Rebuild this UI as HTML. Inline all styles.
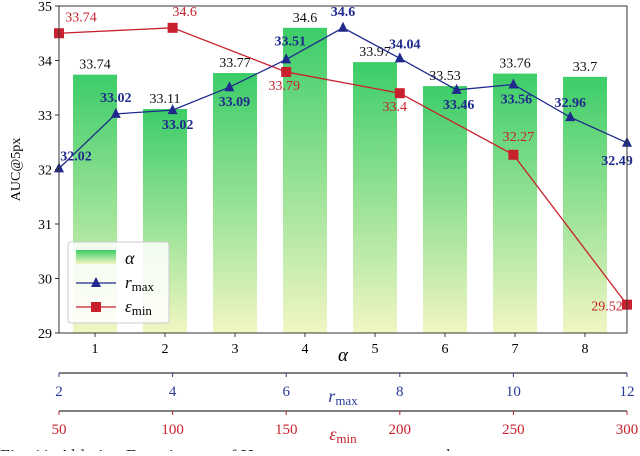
<!DOCTYPE html>
<html><head><meta charset="utf-8"><style>
body{margin:0;background:#fff;width:640px;height:451px;overflow:hidden}
text{font-family:"Liberation Serif",serif}
</style></head><body>
<svg width="640" height="451">
<defs><linearGradient id="g" x1="0" y1="0" x2="0" y2="1">
<stop offset="0" stop-color="#3ccd68"/><stop offset="1" stop-color="#f1f6c2"/></linearGradient></defs>
<g id="bars"></g><g id="lines"></g><g id="axes"></g>
</svg>
<script>
const alphaCats=[1,2,3,4,5,6,7,8];
const alphaVals=[33.74,33.11,33.77,34.6,33.97,33.53,33.76,33.7];
const rCats=[2,3,4,5,6,7,8,9,10,11,12];
const rVals=[32.02,33.02,33.09,33.51,34.02,34.6,34.04,33.46,33.56,32.96,32.49];
const rLabels=["32.02","33.02","33.02","33.09","33.51","34.6","34.04","33.46","33.56","32.96","32.49"];
const eCats=[50,100,150,200,250,300];
const eVals=[34.5,34.6,33.79,33.4,32.27,29.52];
const eLabels=["33.74","34.6","33.79","33.4","32.27","29.52"];
const yTicks=[29,30,31,32,33,34,35];
const rTicks=[2,4,6,8,10,12];
const eTicks=[50,100,150,200,250,300];
const L=59,R=627,T=6,B=333;
const y=v=>T+(35-v)*(B-T)/6;
const xa=a=>95+(a-1)*70;
const xr=r=>L+(r-2)*(R-L)/10;
const xe=e=>L+(e-50)*(R-L)/250;
const NS="http://www.w3.org/2000/svg";
function mk(p,tag,at,txt){const e=document.createElementNS(NS,tag);for(const k in at)e.setAttribute(k,at[k]);if(txt!=null)e.textContent=txt;document.getElementById(p).appendChild(e);return e;}
alphaCats.forEach((a,i)=>{
 const b=mk('bars','rect',{x:xa(a)-22,y:y(alphaVals[i]),width:44,height:B-y(alphaVals[i]),fill:'url(#g)'});
 
 
 const t=mk('bars','text',{x:xa(a),y:y(alphaVals[i])-6,'text-anchor':'middle','font-size':14,fill:'#111'},alphaVals[i]);
 
 
});
let pe=eCats.map((e,i)=>xe(e)+','+y(eVals[i])).join(' ');
const rl=mk('lines','polyline',{points:pe,fill:'none',stroke:'#c8202c','stroke-width':1.3});


const eOff=[[22,-12],[12,-12],[-2,18],[-5,18],[5,-14],[-20,6]];
eCats.forEach((e,i)=>{
 const m=mk('lines','rect',{x:xe(e)-5,y:y(eVals[i])-5,width:10,height:10,fill:'#c8202c'});
 
 
 const t=mk('lines','text',{x:xe(e)+eOff[i][0],y:y(eVals[i])+eOff[i][1],'text-anchor':'middle','font-size':14,fill:'#c8202c'},eLabels[i]);
 
 
});
let pr=rCats.map((r,i)=>xr(r)+','+y(rVals[i])).join(' ');
const bl=mk('lines','polyline',{points:pr,fill:'none',stroke:'#1f2a8c','stroke-width':1.3});


const rOff=[[17,-8],[0,-12],[5,19],[5,19],[4,-14],[0,-12],[5,-10],[2,19],[3,19],[0,-10],[-10,22]];
rCats.forEach((r,i)=>{
 const X=xr(r),Y=y(rVals[i]);
 const m=mk('lines','polygon',{points:`${X},${Y-6} ${X-5},${Y+4} ${X+5},${Y+4}`,fill:'#1f2a8c'});
 
 
 const t=mk('lines','text',{x:X+rOff[i][0],y:Y+rOff[i][1],'text-anchor':'middle','font-size':14,'font-weight':'bold',fill:'#1f2a8c'},rLabels[i]);
 
 
});
const fr=mk('axes','rect',{x:L,y:T,width:R-L,height:B-T,fill:'none',stroke:'#333','stroke-width':1});


yTicks.forEach(v=>{
 mk('axes','line',{x1:L-4,x2:L,y1:y(v),y2:y(v),stroke:'#333'});
 const t=mk('axes','text',{x:L-7,y:y(v)+5,'text-anchor':'end','font-size':14},v);
 
 
});
const yt=mk('axes','text',{x:0,y:0,transform:`translate(20,${(T+B)/2}) rotate(-90)`,'text-anchor':'middle','font-size':14},'AUC@5px');


alphaCats.forEach(a=>{
 mk('axes','line',{x1:xa(a),x2:xa(a),y1:B,y2:B+4,stroke:'#333'});
 const t=mk('axes','text',{x:xa(a),y:B+20,'text-anchor':'middle','font-size':14},a);
 
 
});
const at=mk('axes','text',{x:343,y:361,'text-anchor':'middle','font-size':19,'font-style':'italic','font-family':'DejaVu Sans'},'α');


function sec(yl,ticks,xf,col,name){
 mk('axes','line',{x1:L,x2:R,y1:yl,y2:yl,stroke:'#333','stroke-width':1.3});
 ticks.forEach(v=>{
  mk('axes','line',{x1:xf(v),x2:xf(v),y1:yl,y2:yl+4,stroke:col});
  const t=mk('axes','text',{x:xf(v),y:yl+23,'text-anchor':'middle','font-size':15,fill:col},v);
  
  
 });
}
sec(373,rTicks,xr,'#2a3a9a','r-max');
sec(411,eTicks,xe,'#c8202c','epsilon-min');
const rt=mk('axes','text',{x:343,y:402,'text-anchor':'middle','font-size':18,fill:'#2a3a9a','font-family':'DejaVu Sans'},'');
rt.innerHTML='<tspan font-style="italic">r</tspan><tspan font-size="13" dy="3">max</tspan>';


const et=mk('axes','text',{x:343,y:440,'text-anchor':'middle','font-size':18,fill:'#c8202c','font-family':'DejaVu Sans'},'');
et.innerHTML='<tspan font-style="italic">ε</tspan><tspan font-size="13" dy="3">min</tspan>';


const lg=mk('axes','rect',{x:68,y:242,width:101,height:81,rx:3,fill:'#fff','fill-opacity':0.85,stroke:'#ccc'});


mk('axes','rect',{x:76,y:250,width:40,height:14,fill:'url(#g)'});
let t1=mk('axes','text',{x:125,y:264,'font-size':18,'font-style':'italic','font-family':'DejaVu Sans'},'α');

mk('axes','line',{x1:76,x2:116,y1:283,y2:283,stroke:'#1f2a8c','stroke-width':1.3});
mk('axes','polygon',{points:'96,277 91,287 101,287',fill:'#1f2a8c'});
let t2=mk('axes','text',{x:125,y:288,'font-size':17,'font-family':'DejaVu Sans'},'');
t2.innerHTML='<tspan font-style="italic">r</tspan><tspan font-size="13" dy="3">max</tspan>';

mk('axes','line',{x1:76,x2:116,y1:307,y2:307,stroke:'#c8202c','stroke-width':1.3});
mk('axes','rect',{x:91,y:302,width:10,height:10,fill:'#c8202c'});
let t3=mk('axes','text',{x:125,y:312,'font-size':17,'font-family':'DejaVu Sans'},'');
t3.innerHTML='<tspan font-style="italic">ε</tspan><tspan font-size="13" dy="3">min</tspan>';

const cap=mk('axes','text',{x:0,y:462,'font-size':18,fill:'#222'},'');
cap.innerHTML='Fig. 11. Ablation Experiments of Hyperparameters <tspan font-style="italic">α</tspan>, <tspan font-style="italic">r</tspan><tspan font-size="12" dy="3">max</tspan><tspan dy="-3">, and </tspan><tspan font-style="italic">ε</tspan><tspan font-size="12" dy="3">min</tspan>';


</script>
</body></html>
